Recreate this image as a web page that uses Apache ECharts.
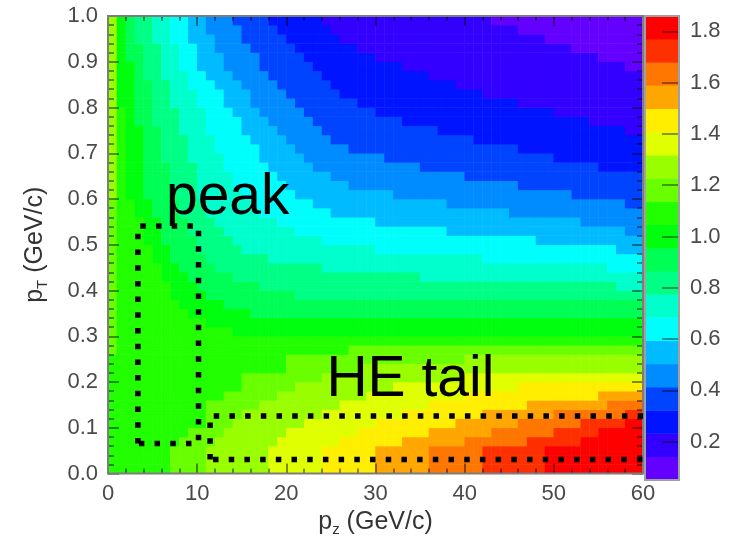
<!DOCTYPE html>
<html>
<head>
<meta charset="utf-8">
<script src="https://cdn.jsdelivr.net/npm/echarts@6.0.0/dist/echarts.min.js"></script>
<style>
  html, body { margin: 0; padding: 0; background: #fff; }
  #chart { width: 735px; height: 542px; }
</style>
</head>
<body>
<div id="chart"></div>
<script>
// p_z bins (GeV/c, lower edges) and p_T bins (GeV/c, lower edges)
const pzBins = [0,1,2,3,4,5,6,7,8,9,10,11,12,13,14,15,16,17,18,19,20,21,22,23,24,25,26,27,28,29,
                30,31,32,33,34,35,36,37,38,39,40,41,42,43,44,45,46,47,48,49,50,51,52,53,54,55,56,57,58,59];
const ptBins = [0.00,0.02,0.04,0.06,0.08,0.10,0.12,0.14,0.16,0.18,0.20,0.22,0.24,0.26,0.28,0.30,0.32,0.34,0.36,0.38,
                0.40,0.42,0.44,0.46,0.48,0.50,0.52,0.54,0.56,0.58,0.60,0.62,0.64,0.66,0.68,0.70,0.72,0.74,0.76,0.78,
                0.80,0.82,0.84,0.86,0.88,0.90,0.92,0.94,0.96,0.98];

// Ratio per cell, one entry per p_T row (bottom to top).
// Each row lists runs as [first p_z bin, ratio]; a run lasts until the next one starts.
const ratioRows = [
  [[0,1.09],[7,1.18],[11,1.27],[18,1.36],[24,1.45],[30,1.54],[36,1.63],[42,1.72],[49,1.81]],
  [[0,1.09],[7,1.18],[11,1.27],[18,1.36],[24,1.45],[30,1.54],[36,1.63],[42,1.72],[49,1.81]],
  [[0,1.09],[7,1.18],[11,1.27],[18,1.36],[24,1.45],[30,1.54],[36,1.63],[42,1.72],[49,1.81]],
  [[0,1.09],[8,1.18],[12,1.27],[19,1.36],[26,1.45],[33,1.54],[40,1.63],[47,1.72],[53,1.81]],
  [[0,1.09],[9,1.18],[13,1.27],[20,1.36],[28,1.45],[36,1.54],[43,1.63],[50,1.72],[55,1.81]],
  [[0,1.09],[11,1.18],[14,1.27],[22,1.36],[30,1.45],[39,1.54],[46,1.63],[53,1.72],[58,1.81]],
  [[0,1.09],[11,1.18],[15,1.27],[24,1.36],[33,1.45],[42,1.54],[50,1.63],[58,1.72]],
  [[0,1.09],[11,1.18],[17,1.27],[26,1.36],[36,1.45],[47,1.54],[56,1.63]],
  [[0,1.09],[13,1.18],[19,1.27],[29,1.36],[40,1.45],[55,1.54]],
  [[0,1.09],[15,1.18],[21,1.27],[32,1.36],[46,1.45]],
  [[0,1.09],[15,1.18],[24,1.27],[40,1.36]],
  [[0,1.09],[20,1.18],[28,1.27]],
  [[0,1.09],[20,1.18],[40,1.27]],
  [[0,1.18],[1,1.09],[27,1.18]],
  [[0,1.18],[1,1.09]],
  [[0,1.18],[1,1.09],[14,1.00]],
  [[0,1.18],[1,1.09],[11,1.00]],
  [[0,1.18],[1,1.09],[9,1.00],[16,0.91]],
  [[0,1.18],[1,1.09],[8,1.00],[13,0.91]],
  [[0,1.18],[1,1.09],[7,1.00],[11,0.91],[21,0.82]],
  [[0,1.18],[1,1.09],[7,1.00],[10,0.91],[17,0.82],[57,0.73]],
  [[0,1.18],[1,1.09],[6,1.00],[9,0.91],[14,0.82],[35,0.73]],
  [[0,1.18],[1,1.09],[6,1.00],[8,0.91],[12,0.82],[24,0.73],[56,0.64]],
  [[0,1.18],[1,1.09],[5,1.00],[7,0.91],[11,0.82],[18,0.73],[42,0.64]],
  [[0,1.18],[1,1.09],[5,1.00],[7,0.91],[10,0.82],[15,0.73],[30,0.64],[57,0.55]],
  [[0,1.18],[1,1.09],[4,1.00],[6,0.91],[10,0.82],[14,0.73],[24,0.64],[48,0.55]],
  [[0,1.18],[1,1.09],[4,1.00],[6,0.91],[9,0.82],[13,0.73],[21,0.64],[38,0.55],[58,0.46]],
  [[0,1.18],[1,1.09],[4,1.00],[6,0.91],[9,0.82],[12,0.73],[19,0.64],[30,0.55],[53,0.46]],
  [[0,1.18],[1,1.09],[3,1.00],[5,0.91],[8,0.82],[11,0.73],[17,0.64],[25,0.55],[45,0.46]],
  [[0,1.18],[1,1.09],[3,1.00],[5,0.91],[8,0.82],[11,0.73],[16,0.64],[23,0.55],[38,0.46],[58,0.37]],
  [[0,1.27],[1,1.09],[2,1.00],[4,0.91],[7,0.82],[10,0.73],[15,0.64],[21,0.55],[32,0.46],[52,0.37]],
  [[0,1.27],[1,1.09],[2,1.00],[4,0.91],[7,0.82],[10,0.73],[14,0.64],[20,0.55],[27,0.46],[46,0.37]],
  [[0,1.27],[1,1.09],[2,1.00],[4,0.91],[7,0.82],[10,0.73],[14,0.64],[19,0.55],[25,0.46],[40,0.37]],
  [[0,1.27],[1,1.09],[2,1.00],[4,0.91],[7,0.82],[10,0.73],[13,0.64],[18,0.55],[23,0.46],[35,0.37],[55,0.28]],
  [[0,1.27],[1,1.09],[2,1.00],[4,0.91],[6,0.82],[9,0.73],[13,0.64],[17,0.55],[22,0.46],[31,0.37],[50,0.28]],
  [[0,1.27],[1,1.09],[2,1.00],[4,0.91],[6,0.82],[9,0.73],[12,0.64],[17,0.55],[21,0.46],[27,0.37],[46,0.28]],
  [[0,1.27],[1,1.09],[2,1.00],[4,0.91],[6,0.82],[9,0.73],[12,0.64],[16,0.55],[20,0.46],[25,0.37],[41,0.28]],
  [[0,1.27],[1,1.09],[2,1.00],[4,0.91],[6,0.82],[8,0.73],[11,0.64],[15,0.55],[19,0.46],[24,0.37],[37,0.28],[58,0.19]],
  [[0,1.27],[1,1.09],[2,1.00],[3,0.91],[5,0.82],[8,0.73],[11,0.64],[15,0.55],[18,0.46],[23,0.37],[33,0.28],[54,0.19]],
  [[0,1.27],[1,1.09],[2,1.00],[3,0.91],[5,0.82],[8,0.73],[11,0.64],[14,0.55],[17,0.46],[22,0.37],[30,0.28],[50,0.19]],
  [[0,1.27],[1,1.00],[3,0.91],[5,0.82],[7,0.73],[10,0.64],[13,0.55],[16,0.46],[21,0.37],[28,0.28],[46,0.19]],
  [[0,1.27],[1,1.00],[3,0.91],[5,0.82],[7,0.73],[10,0.64],[13,0.55],[16,0.46],[20,0.37],[26,0.28],[42,0.19]],
  [[0,1.27],[1,1.00],[3,0.91],[5,0.82],[7,0.73],[9,0.64],[12,0.55],[15,0.46],[19,0.37],[25,0.28],[39,0.19]],
  [[0,1.27],[1,1.00],[3,0.91],[4,0.82],[6,0.73],[9,0.64],[11,0.55],[14,0.46],[18,0.37],[24,0.28],[36,0.19]],
  [[0,1.27],[1,1.00],[3,0.91],[4,0.82],[6,0.73],[8,0.64],[10,0.55],[13,0.46],[17,0.37],[23,0.28],[33,0.19],[58,0.10]],
  [[0,1.27],[1,1.00],[2,0.91],[4,0.82],[6,0.73],[8,0.64],[10,0.55],[13,0.46],[17,0.37],[22,0.28],[30,0.19],[55,0.10]],
  [[0,1.27],[1,1.00],[2,0.91],[4,0.82],[6,0.73],[8,0.64],[10,0.55],[12,0.46],[16,0.37],[21,0.28],[28,0.19],[52,0.10]],
  [[0,1.27],[1,1.00],[2,0.91],[3,0.82],[5,0.73],[7,0.64],[9,0.55],[12,0.46],[15,0.37],[20,0.28],[26,0.19],[49,0.10]],
  [[0,1.27],[1,1.00],[2,0.91],[3,0.82],[5,0.73],[7,0.64],[9,0.55],[11,0.46],[15,0.37],[19,0.28],[25,0.19],[46,0.10]],
  [[0,1.27],[1,1.00],[2,0.91],[3,0.82],[5,0.73],[7,0.64],[9,0.55],[11,0.46],[14,0.37],[18,0.28],[24,0.19],[43,0.10]]
];

// 20 colour contours of the z scale
const levelEdges = [0.05,0.1405,0.231,0.3215,0.412,0.5025,0.593,0.6835,0.774,0.8645,0.955,
                    1.0455,1.136,1.2265,1.317,1.4075,1.498,1.5885,1.679,1.7695,1.86];
const levelValues = [0.10,0.19,0.28,0.37,0.46,0.55,0.64,0.73,0.82,0.91,1.00,1.09,1.18,1.27,1.36,1.45,1.54,1.63,1.72,1.81];
const levelColors = ['#6300ff','#3300ff','#0014ff','#0044ff','#008bff','#00bbff','#00fffc','#00ffcc','#00ff85','#00ff55',
                     '#00ff0e','#22ff00','#69ff00','#99ff00','#e0ff00','#ffee00','#ffa700','#ff7700','#ff3000','#ff0000'];
const scaleTicks = [0.2,0.4,0.6,0.8,1.0,1.2,1.4,1.6,1.8];

// selection regions (p_z, p_T corners) and their labels
const peakRegion = [[3.35,0.066],[3.35,0.541],[10.15,0.541],[10.15,0.066],[3.35,0.066]];
const tailRegion = [[11.45,0.031],[11.45,0.126],[60.75,0.126],[60.75,0.031],[11.45,0.031]];
const regionLabels = [
  { name: 'peak', value: [6.5, 0.601] },
  { name: 'HE tail', value: [24.5, 0.204] }
];

// expand the runs into heatmap cells
const cells = [];
ratioRows.forEach((runs, j) => {
  runs.forEach((run, i) => {
    const end = i + 1 < runs.length ? runs[i + 1][0] : pzBins.length;
    for (let c = run[0]; c < end; c++) cells.push([c, j, run[1]]);
  });
});
const scaleCells = levelValues.map((v, k) => [0, k, v]);

const FONT = 'Liberation Sans, Arial, Helvetica, sans-serif';
const labelStyle = { fontFamily: FONT, fontSize: 22, color: '#4a4a4a' };
const tickStyle = { color: 'rgba(0,0,0,0.6)', width: 1.5 };
const titleRich = {
  m: { fontFamily: FONT, fontSize: 25, color: '#333', lineHeight: 30 },
  s: { fontFamily: FONT, fontSize: 15, color: '#333', lineHeight: 30, verticalAlign: 'bottom' }
};

function frameAxis(extra) {
  return Object.assign({
    gridIndex: 0, type: 'value', z: 6,
    axisLine: { show: false },
    splitLine: { show: false },
    axisTick: { show: true, inside: true, length: 10, lineStyle: tickStyle },
    minorTick: { show: true, splitNumber: 5, length: 5, lineStyle: tickStyle }
  }, extra);
}

const chart = echarts.init(document.getElementById('chart'), null, { renderer: 'canvas' });
chart.setOption({
  animation: false,
  backgroundColor: '#ffffff',
  grid: [
    { left: 108, top: 16, width: 535, height: 464, show: true, z: 8,
      borderColor: '#7d7d7d', borderWidth: 2, backgroundColor: 'transparent' },
    { left: 645, top: 16, width: 34, height: 464, show: true, z: 8,
      borderColor: '#a0a0a0', borderWidth: 2, backgroundColor: 'transparent' }
  ],
  xAxis: [
    { gridIndex: 0, type: 'category', data: pzBins, show: false },
    frameAxis({
      position: 'bottom', min: 0, max: 60, interval: 10,
      axisLabel: Object.assign({ margin: 9 }, labelStyle),
      name: '{m|p}{s|z}{m| (GeV/c)}', nameLocation: 'middle', nameGap: 31,
      nameTextStyle: { rich: titleRich }
    }),
    frameAxis({ position: 'top', min: 0, max: 60, interval: 10, axisLabel: { show: false } }),
    { gridIndex: 1, type: 'category', data: [''], show: false }
  ],
  yAxis: [
    { gridIndex: 0, type: 'category', data: ptBins, show: false },
    frameAxis({
      position: 'left', min: 0, max: 1, interval: 0.1,
      axisTick: { show: true, inside: true, length: 11, lineStyle: tickStyle },
      minorTick: { show: true, splitNumber: 5, length: 6, lineStyle: tickStyle },
      axisLabel: Object.assign({ margin: 10, formatter: v => v.toFixed(1) }, labelStyle),
      name: '{m|p}{s|T}{m| (GeV/c)}', nameLocation: 'middle', nameGap: 58, nameRotate: 90,
      nameTextStyle: { rich: titleRich }
    }),
    frameAxis({
      position: 'right', min: 0, max: 1, interval: 0.1, axisLabel: { show: false },
      axisTick: { show: true, inside: true, length: 11, lineStyle: tickStyle },
      minorTick: { show: true, splitNumber: 5, length: 6, lineStyle: tickStyle }
    }),
    { gridIndex: 1, type: 'category', data: levelValues, show: false },
    {
      gridIndex: 1, type: 'value', position: 'right', min: 0.05, max: 1.86, z: 6,
      axisLine: { show: false }, splitLine: { show: false },
      axisTick: { show: true, inside: true, length: 17, customValues: scaleTicks,
                  lineStyle: { color: 'rgba(0,0,0,0.4)', width: 2 } },
      axisLabel: Object.assign({ margin: 11, customValues: scaleTicks, formatter: v => v.toFixed(1) }, labelStyle)
    }
  ],
  visualMap: {
    type: 'piecewise', show: false, dimension: 2, seriesIndex: [0, 1],
    pieces: levelColors.map((color, k) => ({ gte: levelEdges[k], lt: levelEdges[k + 1], color: color }))
  },
  series: [
    {
      type: 'heatmap', xAxisIndex: 0, yAxisIndex: 0, data: cells,
      progressive: 0, silent: true, emphasis: { disabled: true }
    },
    {
      type: 'heatmap', xAxisIndex: 3, yAxisIndex: 3, data: scaleCells,
      progressive: 0, silent: true, emphasis: { disabled: true }
    },
    {
      type: 'line', xAxisIndex: 1, yAxisIndex: 1, data: peakRegion, symbol: 'none',
      clip: false, silent: true, z: 9,
      lineStyle: { color: '#000', width: 5.5, type: [5.5, 10.2], cap: 'butt' }
    },
    {
      type: 'line', xAxisIndex: 1, yAxisIndex: 1, data: tailRegion, symbol: 'none',
      clip: false, silent: true, z: 9,
      lineStyle: { color: '#000', width: 5.5, type: [5.5, 10.2], cap: 'butt' }
    },
    {
      type: 'scatter', xAxisIndex: 1, yAxisIndex: 1, data: regionLabels, symbolSize: 0,
      silent: true, z: 9, itemStyle: { opacity: 1 },
      label: { show: true, position: 'right', distance: 0, formatter: '{b}',
               fontFamily: FONT, fontSize: 57, color: '#000', opacity: 1 }
    }
  ]
});
</script>
</body>
</html>
